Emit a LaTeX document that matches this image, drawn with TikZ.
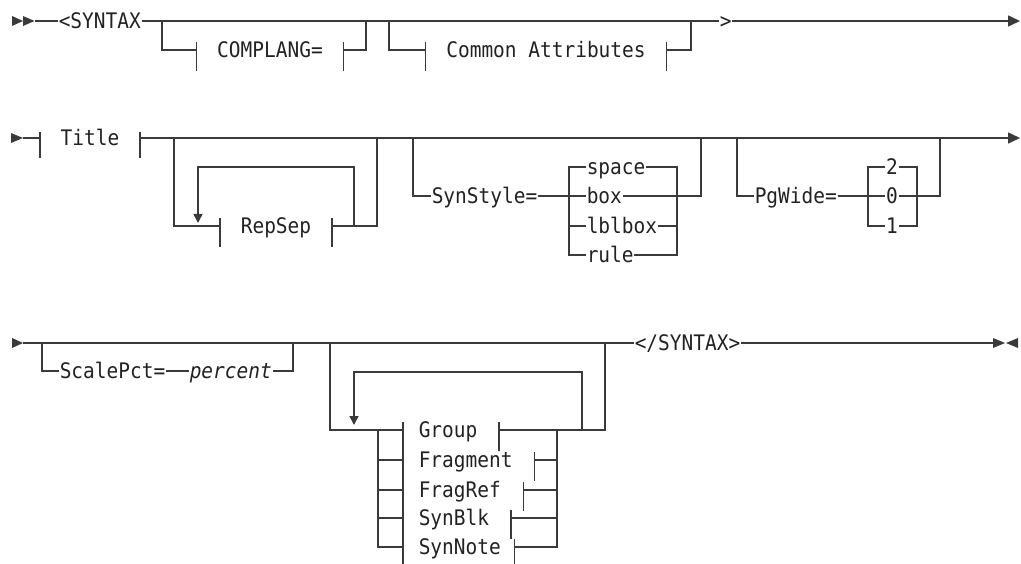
\documentclass[tikz,border=0pt]{standalone}
\usepackage{fontspec}
\setmonofont[FakeStretch=0.91]{DejaVu Sans Mono}
\usetikzlibrary{arrows.meta}

\definecolor{synline}{HTML}{3A3A3A}
\definecolor{synink}{HTML}{222222}
\newcommand\synfont{\ttfamily\fontsize{21.4pt}{24pt}\selectfont}
\newcommand\synvar{\synfont\itshape}

\begin{document}
\begin{tikzpicture}[x=1pt,y=-1pt,line width=1.5pt,synline]
	\tikzset{kw/.style={inner sep=0pt,anchor=west,text height=15.6pt,text depth=0pt,font=\synfont,text=synink},
		frag/.style={kw,anchor=center,inner xsep=20pt},
		tip/.style={-{Triangle[length=12pt,width=11pt]}},
		back/.style={-{Triangle[length=9pt,width=9pt]}}}
	\useasboundingbox (0,0) rectangle (1021,564);

	% first line: <SYNTAX ... >
	\fill (12,16) -- (23,21) -- (12,26) -- cycle;
	\fill (23,16) -- (34.5,21) -- (23,26) -- cycle;
	\coordinate (s1) at (35,21);
	\coordinate (e1) at (1020,21);
	\node [kw] (syn1) at (58,21) {<SYNTAX};
	\node [kw] (gt) at (719,21) {>};
	\draw (s1) -- (syn1.west);
	\draw (syn1.east) -- (gt.west);
	\draw [tip] (gt.east) -- (e1);
	\coordinate (a1) at (162,21);
	\coordinate (a2) at (366,21);
	\node [frag] (cl) at (270,50) {COMPLANG=};
	\draw (a1) |- (cl.west);
	\draw (cl.east) -| (a2);
	\coordinate (a3) at (389,21);
	\coordinate (a4) at (691,21);
	\node [frag] (ca) at (546,50) {Common Attributes};
	\draw (a3) |- (ca.west);
	\draw (ca.east) -| (a4);

	% second line: Title, RepSep, SynStyle, PgWide
	\fill (11,133) -- (23,138) -- (11,143) -- cycle;
	\coordinate (s2) at (23,138);
	\coordinate (e2) at (1020,138);
	\node [frag] (ti) at (90,138) {Title};
	\draw (s2) -- (ti.west);
	\draw [tip] (ti.east) -- (e2);
	\coordinate (b1) at (174,138);
	\coordinate (b2) at (377,138);
	\node [frag] (rs) at (276,226) {RepSep};
	\draw (b1) |- (rs.west);
	\draw (rs.east) -| (b2);
	\coordinate (rl) at (354,226);
	\draw [back] (rl) -- ++(0,-59) -| ++(-156,56);

	\coordinate (c1) at (413,138);
	\coordinate (c2) at (701,138);
	\node [kw] (ss) at (431,196) {SynStyle=};
	\node [kw] (sp) at (586,167) {space};
	\node [kw] (bx) at (586,196) {box};
	\node [kw] (lb) at (586,226) {lblbox};
	\node [kw] (ru) at (586,255) {rule};
	\coordinate (ssl) at (569,196);
	\coordinate (ssr) at (677,196);
	\draw (c1) |- (ss.west);
	\draw (ss.east) -- (bx.west);
	\draw (sp.west) -| (ssl) |- (ru.west);
	\draw (lb.west) -- (lb.west -| ssl);
	\draw (sp.east) -| (ssr) |- (ru.east);
	\draw (lb.east) -- (lb.east -| ssr);
	\draw (bx.east) -- (ssr) -| (c2);

	\coordinate (d1) at (737,138);
	\coordinate (d2) at (940,138);
	\node [kw] (pw) at (754,196) {PgWide=};
	\node [kw,anchor=center] (v2) at (892,167) {2};
	\node [kw,anchor=center] (v0) at (892,196) {0};
	\node [kw,anchor=center] (v1) at (892,226) {1};
	\coordinate (pwl) at (868,196);
	\coordinate (pwr) at (917,196);
	\draw (d1) |- (pw.west);
	\draw (pw.east) -- (v0.west);
	\draw (v2.west) -| (pwl) |- (v1.west);
	\draw (v2.east) -| (pwr) |- (v1.east);
	\draw (v0.east) -- (pwr) -| (d2);

	% third line: ScalePct, the repeatable group list, </SYNTAX>
	\fill (12,338) -- (23,343) -- (12,348) -- cycle;
	\coordinate (s3) at (23,343);
	\coordinate (e3) at (993,343);
	\node [kw] (syn2) at (634,343) {</SYNTAX>};
	\draw (s3) -- (syn2.west);
	\draw (syn2.east) -- (e3);
	\fill (e3) ++(0,-5) -- ++(12,5) -- ++(-12,5) -- cycle;
	\fill (e3) ++(25,-5) -- ++(-12,5) -- ++(12,5) -- cycle;

	\coordinate (f1) at (42,343);
	\coordinate (f2) at (293,343);
	\node [kw] (sc) at (59,371) {ScalePct=};
	\node [kw,font=\synvar] (pc) at (189,371) {percent};
	\draw (f1) |- (sc.west);
	\draw (sc.east) -- (pc.west);
	\draw (pc.east) -| (f2);

	\coordinate (g1) at (330,343);
	\coordinate (g2) at (605,343);
	\node [kw] (gr) at (418,430) {Group};
	\node [kw] (fm) at (418,460) {Fragment};
	\node [kw] (fr) at (418,490) {FragRef};
	\node [kw] (sb) at (418,518) {SynBlk};
	\node [kw] (sn) at (418,547) {SynNote};
	\coordinate (gcol) at (378,430);
	\coordinate (lbar) at (403,422);
	\coordinate (rcol) at (557,430);
	\draw (g1) |- (gr.west -| lbar);
	\draw (gr.west -| gcol) |- (sn.west -| lbar);
	\draw (fm.west -| gcol) -- (fm.west -| lbar);
	\draw (fr.west -| gcol) -- (fr.west -| lbar);
	\draw (sb.west -| gcol) -- (sb.west -| lbar);
	\draw (lbar) -- ++(0,142);
	\draw ([xshift=21pt]gr.east) ++(0,-8) -- ++(0,29);
	\draw ([xshift=21pt]fm.east) ++(0,-8) -- ++(0,29);
	\draw ([xshift=22pt]fr.east) ++(0,-8) -- ++(0,29);
	\draw ([xshift=21pt]sb.east) ++(0,-8) -- ++(0,29);
	\draw ([xshift=13pt]sn.east) ++(0,-8) -- ++(0,29);
	\draw ([xshift=21pt]gr.east) -| (g2);
	\draw (gr.east -| rcol) |- ([xshift=13pt]sn.east);
	\draw ([xshift=21pt]fm.east) -- (fm.east -| rcol);
	\draw ([xshift=22pt]fr.east) -- (fr.east -| rcol);
	\draw ([xshift=21pt]sb.east) -- (sb.east -| rcol);
	\coordinate (gloop) at (582,430);
	\draw [back] (gloop) -- ++(0,-58) -| ++(-228,53);

	% bars round the fragment references
	\draw (cl.west) ++(0,-8) -- ++(0,29);
	\draw (cl.east) ++(0,-8) -- ++(0,29);
	\draw (ca.west) ++(0,-8) -- ++(0,29);
	\draw (ca.east) ++(0,-8) -- ++(0,29);
	\draw (ti.west) ++(0,-6) -- ++(0,26);
	\draw (ti.east) ++(0,-6) -- ++(0,26);
	\draw (rs.west) ++(0,-8) -- ++(0,29);
	\draw (rs.east) ++(0,-8) -- ++(0,29);
\end{tikzpicture}
\end{document}
